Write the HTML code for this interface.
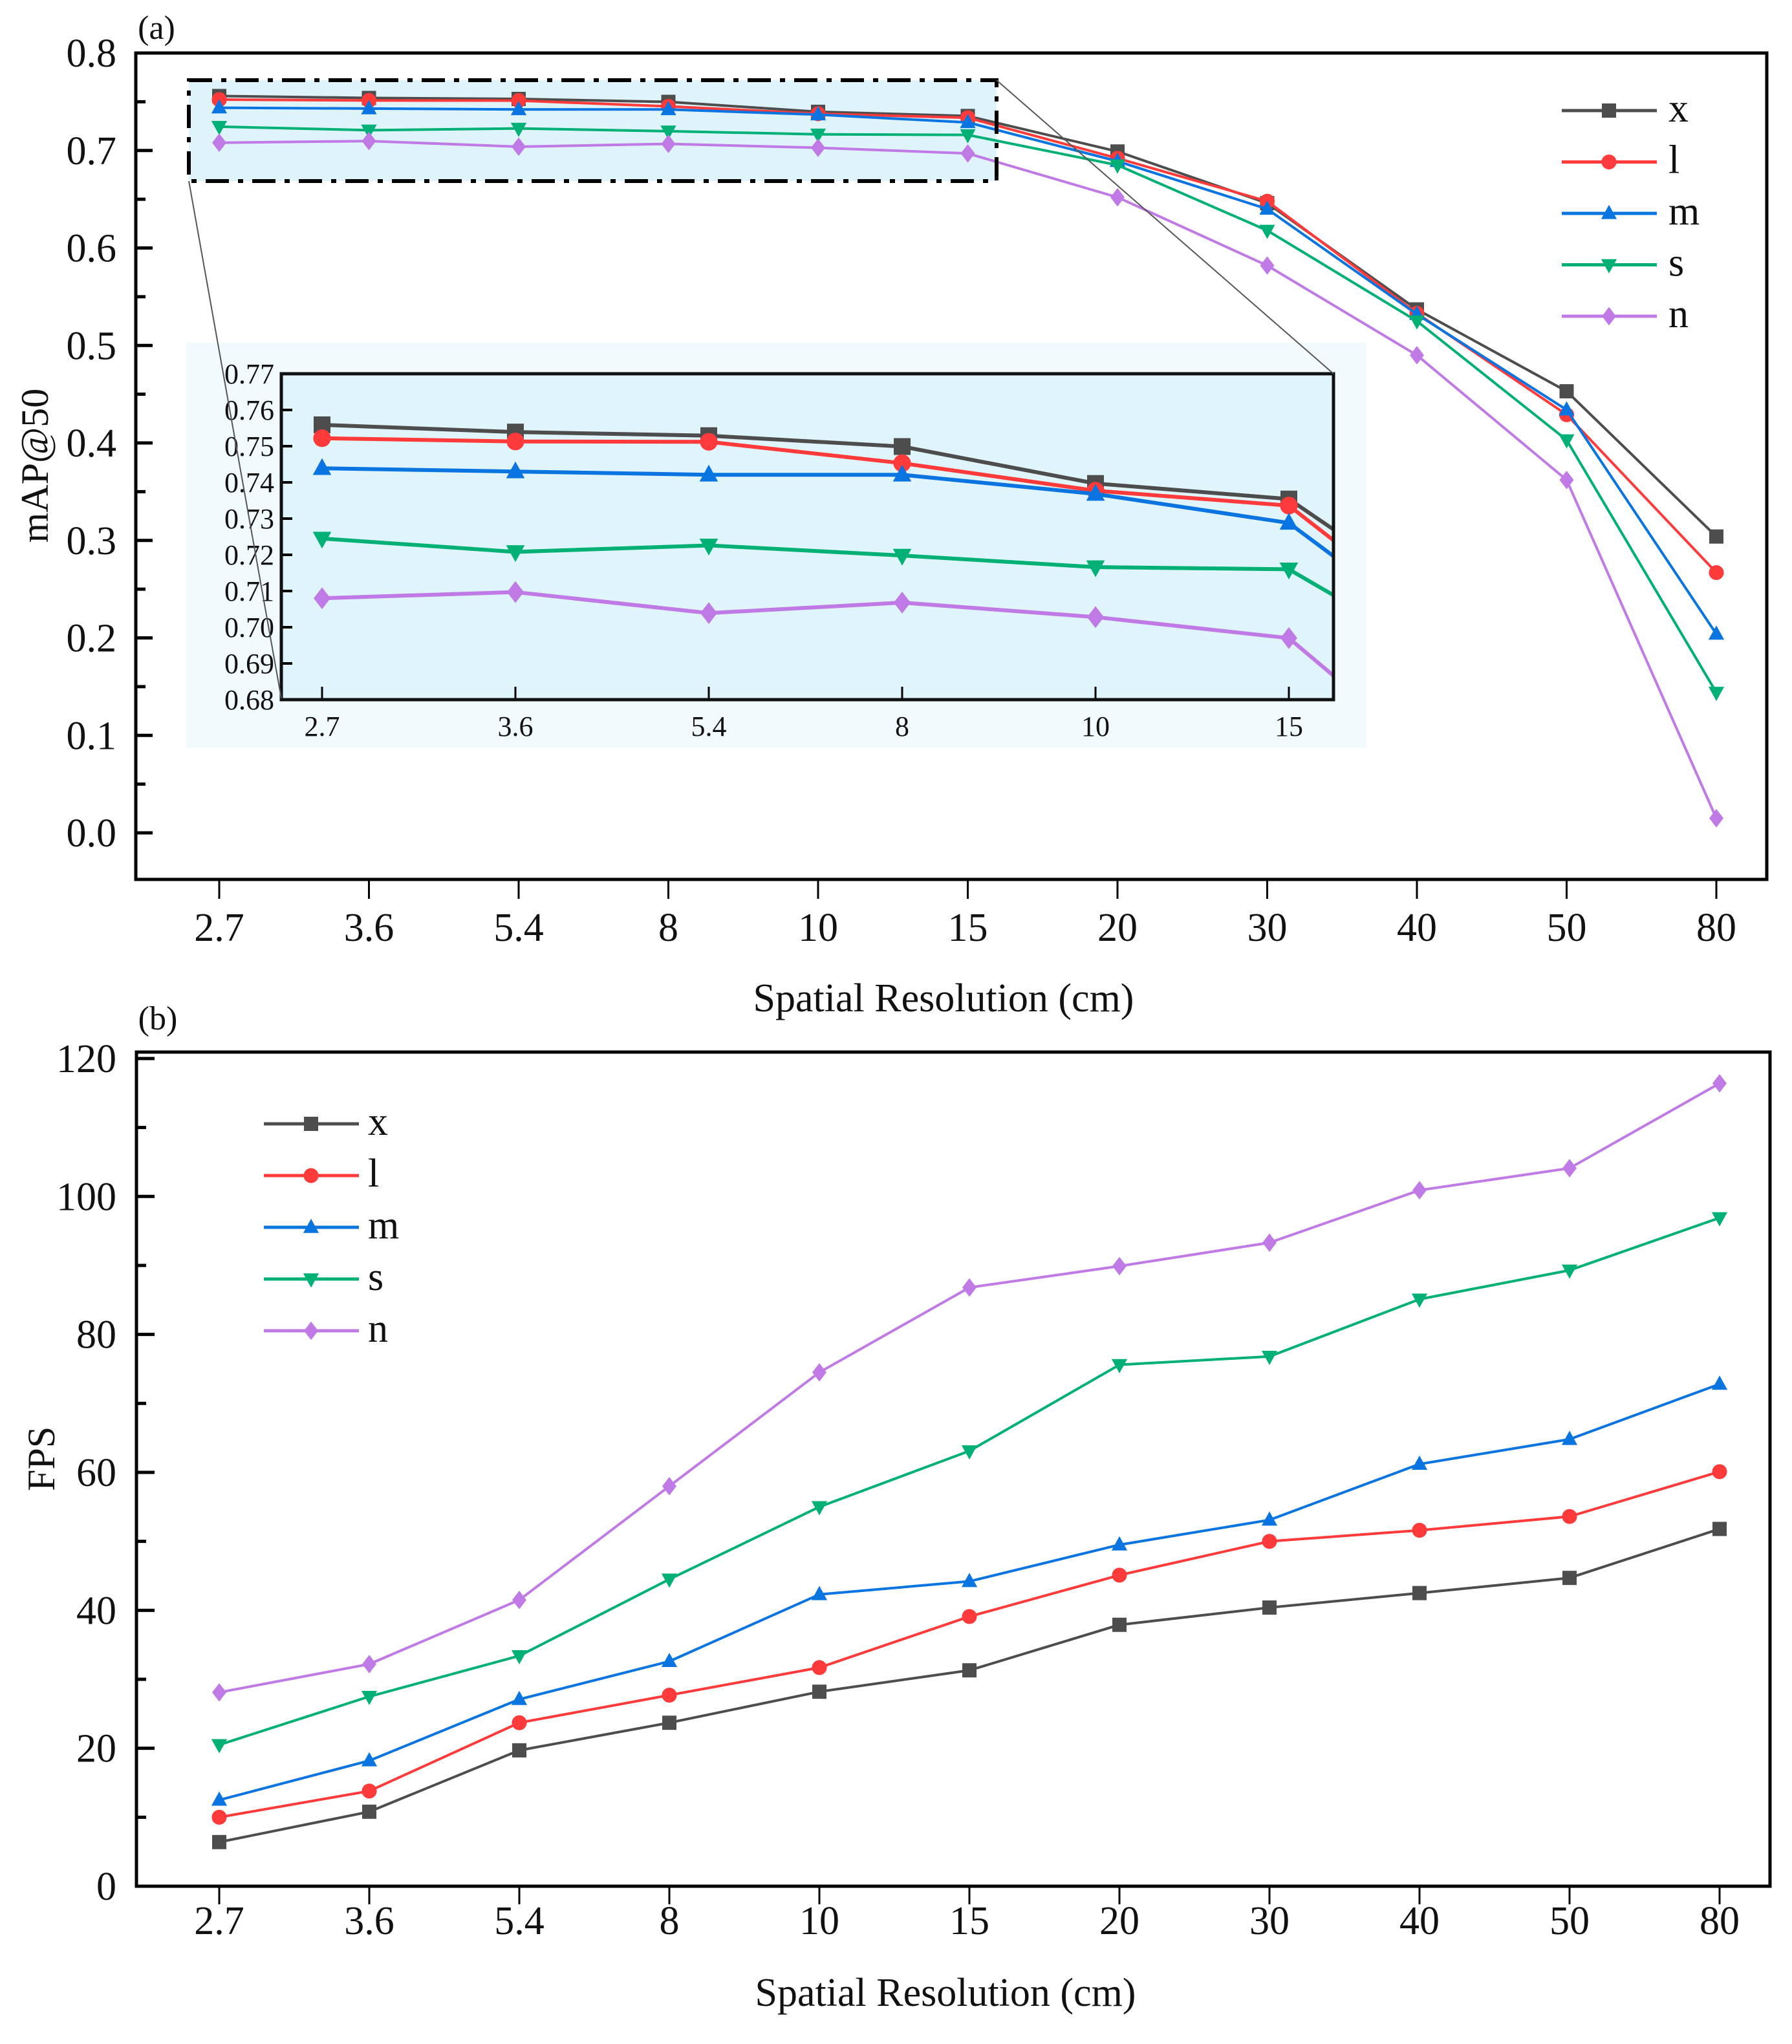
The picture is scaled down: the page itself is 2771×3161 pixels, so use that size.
<!DOCTYPE html>
<html><head><meta charset="utf-8">
<style>
html,body{margin:0;padding:0;background:#fff;}
svg{display:block;font-family:"Liberation Serif",serif;}
text{font-family:"Liberation Serif",serif;}
</style></head>
<body>
<svg id="fig" width="2771" height="3161" viewBox="0 0 2771 3161" xmlns="http://www.w3.org/2000/svg"></svg>
<script>
// ---------- data ----------
const categories = ["2.7","3.6","5.4","8","10","15","20","30","40","50","80"];
const seriesNames = ["x","l","m","s","n"];
const map_x = [0.7559,0.7539,0.7529,0.7499,0.7397,0.7354,0.699,0.646,0.537,0.453,0.304];
const map_l = [0.7522,0.7513,0.7512,0.7453,0.7377,0.7336,0.692,0.648,0.533,0.429,0.267];
const map_m = [0.7439,0.7430,0.7421,0.7421,0.7368,0.7288,0.689,0.640,0.532,0.434,0.204];
const map_s = [0.7245,0.7208,0.7226,0.7198,0.7166,0.7160,0.685,0.618,0.525,0.403,0.144];
const map_n = [0.7080,0.7097,0.7039,0.7068,0.7028,0.6970,0.652,0.582,0.490,0.362,0.015];
const fps_x = [6.4,10.8,19.7,23.7,28.2,31.3,37.9,40.4,42.5,44.7,51.8];
const fps_l = [10.0,13.8,23.7,27.7,31.7,39.1,45.1,50.0,51.6,53.6,60.1];
const fps_m = [12.5,18.2,27.1,32.6,42.3,44.2,49.5,53.1,61.2,64.8,72.8];
const fps_s = [20.5,27.5,33.4,44.5,55.0,63.1,75.6,76.8,85.1,89.3,96.9];
const fps_n = [28.1,32.2,41.5,58.0,74.5,86.8,89.9,93.3,100.9,104.1,116.4];
const mapTicks = ["0.0","0.1","0.2","0.3","0.4","0.5","0.6","0.7","0.8"];
const fpsTicks = ["0","20","40","60","80","100","120"];
const insetTicks = ["0.68","0.69","0.70","0.71","0.72","0.73","0.74","0.75","0.76","0.77"];
const insetCount = 6;

const colors = {x:"#4d4d4d",l:"#ff3a3a",m:"#0a74e0",s:"#00b074",n:"#c07ae6"};
const markers = {x:"square",l:"circle",m:"tri",s:"tridown",n:"diamond"};
const mapData = {x:map_x,l:map_l,m:map_m,s:map_s,n:map_n};
const fpsData = {x:fps_x,l:fps_l,m:fps_m,s:fps_s,n:fps_n};

// ---------- axes ----------
const NS="http://www.w3.org/2000/svg";
const svg=document.getElementById("fig");
function xA(i){return 339+i*231.5;}
function yA(v){return 1288-v*1507.5;}
function xB(i){return 339+i*232;}
function yB(v){return 2917-v*10.667;}
function xI(i){return 498+i*299;}
function yI(v){return 578+(0.77-v)*5600;}

function el(tag,attrs,parent){const e=document.createElementNS(NS,tag);for(const k in attrs)e.setAttribute(k,attrs[k]);(parent||svg).appendChild(e);return e;}
function txt(s,x,y,size,anchor,parent,extra){const t=el("text",Object.assign({x:x,y:y,"font-size":size,"text-anchor":anchor||"middle",fill:"#111","font-family":"Liberation Serif, serif"},extra||{}),parent);t.textContent=s;return t;}

function marker(type,cx,cy,r,color,parent){
  let m;
  if(type==="square") m=el("rect",{x:cx-r,y:cy-r,width:2*r,height:2*r,fill:color},parent);
  else if(type==="circle") m=el("circle",{cx:cx,cy:cy,r:r*1.05,fill:color},parent);
  else if(type==="tri") m=el("polygon",{points:`${cx},${cy-r*1.2} ${cx+r*1.1},${cy+r*0.8} ${cx-r*1.1},${cy+r*0.8}`,fill:color},parent);
  else if(type==="tridown") m=el("polygon",{points:`${cx},${cy+r*1.2} ${cx+r*1.1},${cy-r*0.8} ${cx-r*1.1},${cy-r*0.8}`,fill:color},parent);
  else m=el("polygon",{points:`${cx},${cy-r*1.3} ${cx+r},${cy} ${cx},${cy+r*1.3} ${cx-r},${cy}`,fill:color},parent);
  return m;
}

function drawSeries(name,vals,xf,yf,n,lw,r,parent,prefix){
  const g=el("g",{},parent);
  
  
  let pts=[];
  for(let i=0;i<n;i++) pts.push(xf(i)+","+yf(vals[i]));
  const pl=el("polyline",{points:pts.join(" "),fill:"none",stroke:colors[name],"stroke-width":lw,"stroke-linejoin":"round"},g);
  
  
  for(let i=0;i<n;i++){
    const m=marker(markers[name],xf(i),yf(vals[i]),r,colors[name],g);
    
    
  }
}

// ================= PANEL A =================
const pa=el("g",{});


let t=txt("(a)",242,60,52,"middle",pa);



let zb=el("rect",{x:292,y:124,width:1249,height:156,fill:"#dff3fb"},pa);



for(let k=0;k<=16;k++){
  const v=k*0.05, y=yA(v), major=(k%2===0);
  const tk=el("line",{x1:210,x2:210+(major?26:15),y1:y,y2:y,stroke:"#000","stroke-width":5},pa);
  
  
  if(major){
    const lb=txt(mapTicks[k/2],180,y+21,62,"end",pa);
    
    
  }
}
categories.forEach((c,i)=>{
  const tk=el("line",{x1:xA(i),x2:xA(i),y1:1360,y2:1390,stroke:"#000","stroke-width":3},pa);
  
  
  const lb=txt(c,xA(i),1455,62,"middle",pa);
  
  
});
t=txt("Spatial Resolution (cm)",1459,1564,62,"middle",pa);


t=txt("mAP@50",0,0,60,"middle",pa,{transform:"translate(74,720) rotate(-90)"});



seriesNames.forEach(n=>drawSeries(n,mapData[n],xA,yA,categories.length,4,11,pa,'map'));

let zd=el("rect",{x:292,y:124,width:1249,height:156,fill:"none",stroke:"#000","stroke-width":6,"stroke-dasharray":"36 14 8 14"},pa);



const ins=el("g",{},pa);


let ib=el("rect",{x:288,y:530,width:1825,height:626,fill:"#f1fbfd"},ins);


let ip=el("rect",{x:435,y:578,width:1627,height:504,fill:"#e0f4fb"},ins);


let c1=el("line",{x1:292,y1:280,x2:435,y2:1080,stroke:"#555","stroke-width":2},pa);


let c2=el("line",{x1:1541,y1:124,x2:2062,y2:578,stroke:"#555","stroke-width":2},pa);



const cp=el("clipPath",{id:"insclip"},svg);
el("rect",{x:435,y:578,width:1627,height:504},cp);
const insData=el("g",{"clip-path":"url(#insclip)"},ins);


seriesNames.forEach(n=>drawSeries(n,mapData[n],xI,yI,insetCount+1,6,13,insData,'inset'));

insetTicks.forEach((s,k)=>{
  const v=0.68+k*0.01,y=yI(v);
  const tk=el("line",{x1:435,x2:452,y1:y,y2:y,stroke:"#000","stroke-width":4},ins);
  
  
  const lb=txt(s,424,y+15,44,"end",ins);
  
  
});
for(let i=0;i<insetCount;i++){
  const tk=el("line",{x1:xI(i),x2:xI(i),y1:1062,y2:1082,stroke:"#000","stroke-width":3},ins);
  
  
  const lb=txt(categories[i],xI(i),1138,44,"middle",ins);
  
  
}
let ifr=el("rect",{x:435,y:578,width:1627,height:504,fill:"none",stroke:"#111","stroke-width":5},ins);



let fa=el("rect",{x:210,y:82,width:2522,height:1278,fill:"none",stroke:"#000","stroke-width":5},pa);



const la=el("g",{},pa);


seriesNames.forEach((n,k)=>{
  const y=171+k*79.5;
  const g=el("g",{},la);
  
  
  el("line",{x1:2415,x2:2562,y1:y,y2:y,stroke:colors[n],"stroke-width":5},g);
  marker(markers[n],2488,y,11,colors[n],g);
  txt(n,2580,y+17,62,"start",g);
});

// ================= PANEL B =================
const pb=el("g",{});


t=txt("(b)",244,1592,52,"middle",pb);


for(let k=0;k<=12;k++){
  const v=k*10,y=yB(v),major=(k%2===0);
  const tk=el("line",{x1:211,x2:211+(major?28:15),y1:y,y2:y,stroke:"#000","stroke-width":5},pb);
  
  
  if(major){
    const lb=txt(fpsTicks[k/2],180,y+21,62,"end",pb);
    
    
  }
}
categories.forEach((c,i)=>{
  const tk=el("line",{x1:xB(i),x2:xB(i),y1:2917,y2:2945,stroke:"#000","stroke-width":3},pb);
  
  
  const lb=txt(c,xB(i),2991,62,"middle",pb);
  
  
});
t=txt("Spatial Resolution (cm)",1462,3102,62,"middle",pb);


t=txt("FPS",0,0,60,"middle",pb,{transform:"translate(84,2256) rotate(-90)"});



seriesNames.forEach(n=>drawSeries(n,fpsData[n],xB,yB,categories.length,4,11,pb,'fps'));

let fb=el("rect",{x:211,y:1627,width:2526,height:1290,fill:"none",stroke:"#000","stroke-width":5},pb);



const lgb=el("g",{},pb);


seriesNames.forEach((n,k)=>{
  const y=1738+k*80;
  const g=el("g",{},lgb);
  
  
  el("line",{x1:408,x2:555,y1:y,y2:y,stroke:colors[n],"stroke-width":5},g);
  marker(markers[n],481,y,11,colors[n],g);
  txt(n,569,y+17,62,"start",g);
});
</script>
</body></html>
